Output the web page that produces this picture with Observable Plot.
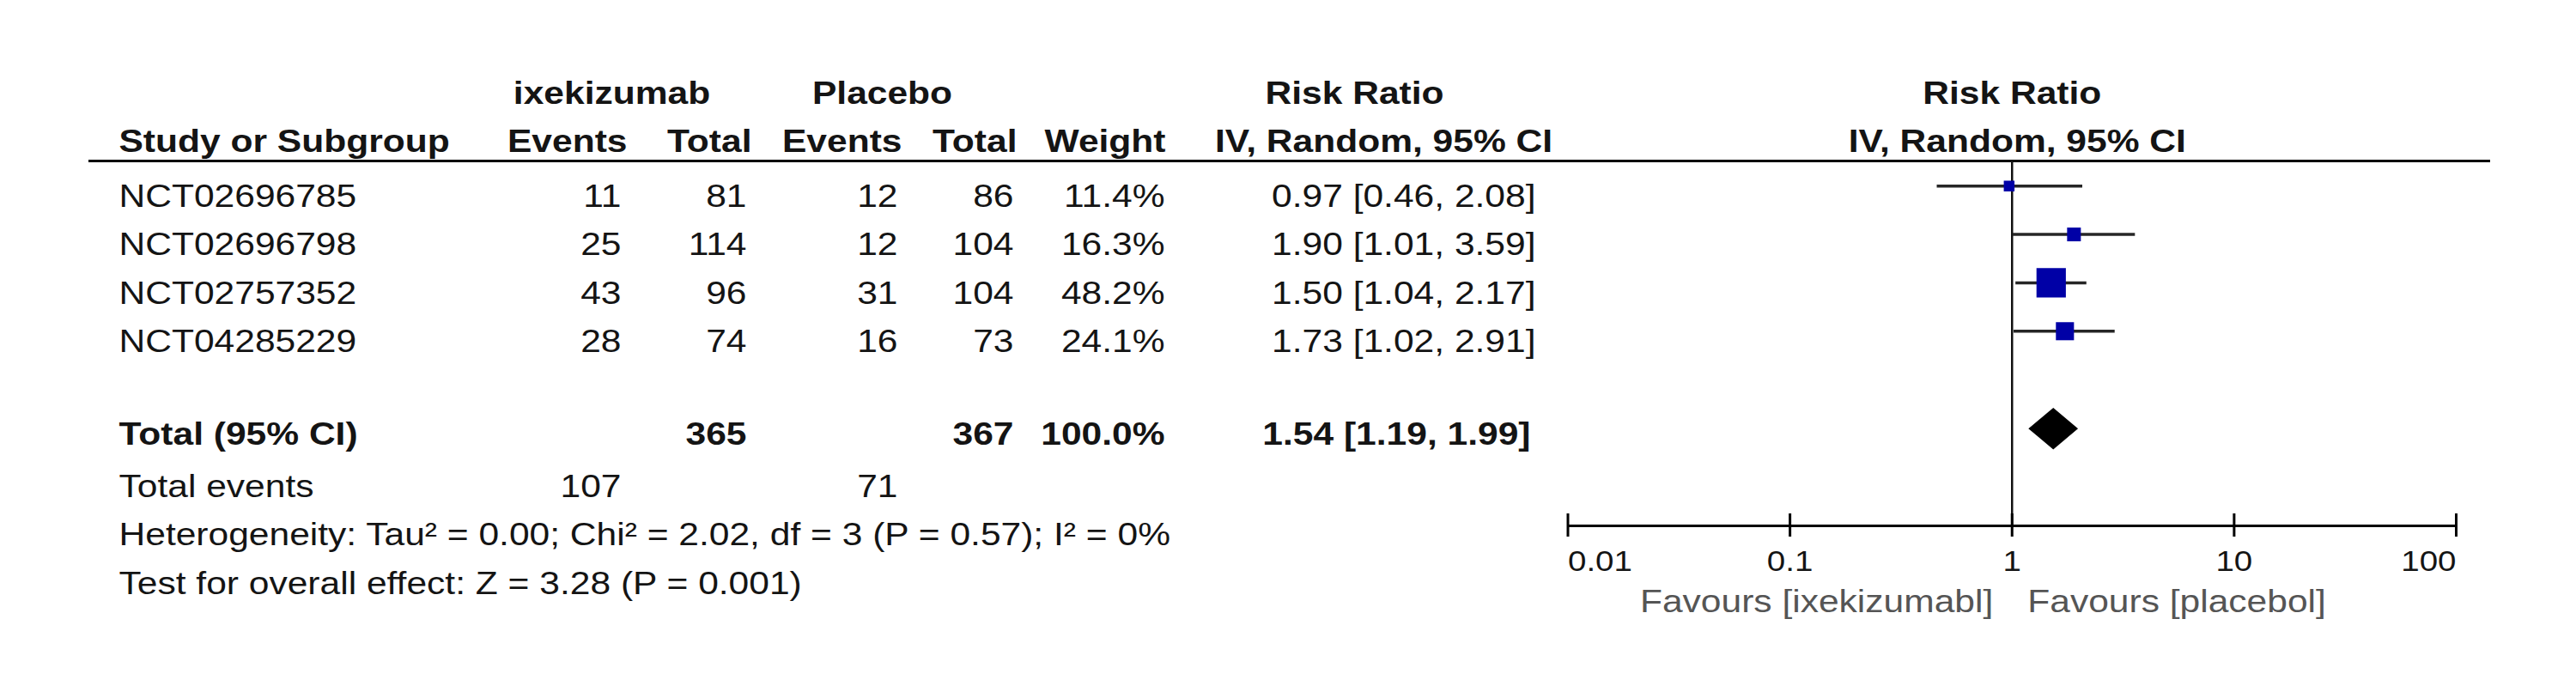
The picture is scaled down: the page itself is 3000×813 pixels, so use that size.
<!DOCTYPE html>
<html>
<head>
<meta charset="utf-8">
<script src="https://cdn.jsdelivr.net/npm/d3@7"></script>
<script src="https://cdn.jsdelivr.net/npm/@observablehq/plot@0.6"></script>
<style>
  html, body { margin: 0; padding: 0; background: #ffffff; overflow: hidden; }
  #chart svg { display: block; }
</style>
</head>
<body>
<div id="chart"></div>
<script>
// ---------------- DATA ----------------
const studies   = ["NCT02696785", "NCT02696798", "NCT02757352", "NCT04285229"];
const ixeEvents = [11, 25, 43, 28];
const ixeTotal  = [81, 114, 96, 74];
const pboEvents = [12, 12, 31, 16];
const pboTotal  = [86, 104, 104, 73];
const weights   = [11.4, 16.3, 48.2, 24.1];
const rr        = [0.97, 1.90, 1.50, 1.73];
const rrLower   = [0.46, 1.01, 1.04, 1.02];
const rrUpper   = [2.08, 3.59, 2.17, 2.91];

const pooledLabel  = "Total (95% CI)";
const pooledTotals = [365, 367];          // ixekizumab, placebo
const pooledWeight = 100.0;
const pooledRR     = [1.54, 1.19, 1.99];  // estimate, lower, upper
const eventsLabel  = "Total events";
const totalEvents  = [107, 71];           // ixekizumab, placebo
const heterogeneity = "Heterogeneity: Tau² = 0.00; Chi² = 2.02, df = 3 (P = 0.57); I² = 0%";
const overallEffect = "Test for overall effect: Z = 3.28 (P = 0.001)";

const headerTop = ["ixekizumab", "Placebo", "Risk Ratio", "Risk Ratio"];
const headerSub = ["Study or Subgroup", "Events", "Total", "Events", "Total", "Weight", "IV, Random, 95% CI", "IV, Random, 95% CI"];

const tickValues = [0.01, 0.1, 1, 10, 100];
const tickLabels = ["0.01", "0.1", "1", "10", "100"];
const favours    = ["Favours [ixekizumabl]", "Favours [placebol]"];

// ---------------- LAYOUT / STYLE ----------------
const L = {
  width: 3000, height: 813,
  font: "'Liberation Sans', Arial, Helvetica, sans-serif",
  fs: 37, tickFs: 33.5, stretch: 1.15,
  ink: "#141414", favInk: "#555555", boxFill: "#0000a6", ciInk: "#262626",
  rowY0: 240.4, rowStep: 56.36,
  xRange: [1825.5, 2860],
  headTopY: 120, headSubY: 176, headRuleY: 187,
  ruleLeft: 103, ruleRight: 100,
  axisY: 612, tickTop: 598, tickBottom: 625, tickLabelY: 664, favY: 712,
  labelX: 138,
  dataCols: [723, 869, 1045, 1180, 1356, 1788],
  headSubX: [138, 730, 875, 1050, 1184, 1357, 1611, null],
  headTopX: [712, 1027, 1577, null],
  forestDy: -24.2, diamondDy: -23, diamondHalf: 0.43, boxMaxR: 19.3,
  totalDy: -5,
  favDx: [-22, 18]
};

// ---------------- TABLE BUILD ----------------
const rowOrder = [...studies, "", pooledLabel, eventsLabel, "heterogeneity", "overall"];
const rowOf = key => rowOrder.indexOf(key);
const fmt2 = v => v.toFixed(2);

const studyRows = studies.map((s, k) => ({
  row: rowOf(s), label: s,
  cells: [ixeEvents[k], ixeTotal[k], pboEvents[k], pboTotal[k], weights[k].toFixed(1) + "%",
          `${fmt2(rr[k])} [${fmt2(rrLower[k])}, ${fmt2(rrUpper[k])}]`],
  rr: rr[k], lo: rrLower[k], hi: rrUpper[k], w: weights[k]
}));

const totalRow = {
  row: rowOf(pooledLabel), label: pooledLabel,
  cells: ["", pooledTotals[0], "", pooledTotals[1], pooledWeight.toFixed(1) + "%",
          `${fmt2(pooledRR[0])} [${fmt2(pooledRR[1])}, ${fmt2(pooledRR[2])}]`]
};
const eventsRow = {
  row: rowOf(eventsLabel), label: eventsLabel,
  cells: [totalEvents[0], "", totalEvents[1], "", "", ""]
};
const noteRows = [
  {row: rowOf("heterogeneity"), label: heterogeneity},
  {row: rowOf("overall"), label: overallEffect}
];

const diamond = [
  {y: totalRow.row - L.diamondHalf, x1: pooledRR[0], x2: pooledRR[0]},
  {y: totalRow.row,                 x1: pooledRR[1], x2: pooledRR[2]},
  {y: totalRow.row + L.diamondHalf, x1: pooledRR[0], x2: pooledRR[0]}
];

const T = (data, opts) => Plot.text(data, {
  lineAnchor: "bottom", fontSize: L.fs, fill: L.ink, fontFamily: L.font, ...opts
});

const marks = [];

// header line
marks.push(Plot.ruleY([0], {dy: L.headRuleY - L.rowY0, insetLeft: L.ruleLeft, insetRight: L.ruleRight,
  stroke: "#000", strokeWidth: 3}));
// line of no effect
marks.push(Plot.ruleX([1], {insetTop: L.headRuleY, insetBottom: L.height - L.axisY, stroke: "#111", strokeWidth: 2.5}));
// confidence intervals
marks.push(Plot.ruleY(studyRows, {y: "row", x1: "lo", x2: "hi", dy: L.forestDy, stroke: L.ciInk, strokeWidth: 3.5}));
// weight boxes
marks.push(Plot.dot(studyRows, {x: "rr", y: "row", r: "w", symbol: "square", fill: L.boxFill, stroke: "none", dy: L.forestDy}));
// pooled diamond
marks.push(Plot.areaX(diamond, {y: "y", x1: "x1", x2: "x2", fill: "#000", dy: L.diamondDy}));
// axis line & ticks
marks.push(Plot.ruleY([0], {x1: () => tickValues[0], x2: () => tickValues[tickValues.length - 1],
  dy: L.axisY - L.rowY0, stroke: "#000", strokeWidth: 3}));
marks.push(Plot.ruleX(tickValues, {insetTop: L.tickTop, insetBottom: L.height - L.tickBottom, stroke: "#000", strokeWidth: 3}));
// tick labels
const tickText = d => tickLabels[tickValues.indexOf(d)];
marks.push(T(tickValues.slice(0, 1), {x: d => d, text: tickText, frameAnchor: "top", dy: L.tickLabelY, textAnchor: "start", fontSize: L.tickFs}));
marks.push(T(tickValues.slice(1, -1), {x: d => d, text: tickText, frameAnchor: "top", dy: L.tickLabelY, textAnchor: "middle", fontSize: L.tickFs}));
marks.push(T(tickValues.slice(-1), {x: d => d, text: tickText, frameAnchor: "top", dy: L.tickLabelY, textAnchor: "end", fontSize: L.tickFs}));
// favours labels
marks.push(T([favours[0]], {x: () => 1, text: d => d, frameAnchor: "top", dy: L.favY, dx: L.favDx[0], textAnchor: "end", fill: L.favInk}));
marks.push(T([favours[1]], {x: () => 1, text: d => d, frameAnchor: "top", dy: L.favY, dx: L.favDx[1], textAnchor: "start", fill: L.favInk}));

// headers (top row)
headerTop.forEach((h, k) => {
  if (L.headTopX[k] == null) {
    marks.push(T([h], {x: () => 1, text: d => d, frameAnchor: "top", dy: L.headTopY, textAnchor: "middle", fontWeight: "bold"}));
  } else {
    marks.push(T([h], {text: d => d, frameAnchor: "top-left", dx: L.headTopX[k], dy: L.headTopY, textAnchor: "middle", fontWeight: "bold"}));
  }
});
// headers (second row)
headerSub.forEach((h, k) => {
  const anchor = k === 0 ? "start" : (k >= 6 ? "middle" : "end");
  if (L.headSubX[k] == null) {
    marks.push(T([h], {x: () => 1, text: d => d, frameAnchor: "top", dy: L.headSubY, dx: 6, textAnchor: "middle", fontWeight: "bold"}));
  } else {
    marks.push(T([h], {text: d => d, frameAnchor: "top-left", dx: L.headSubX[k], dy: L.headSubY, textAnchor: anchor, fontWeight: "bold"}));
  }
});

// row labels
marks.push(T(studyRows, {y: "row", text: "label", frameAnchor: "left", dx: L.labelX, textAnchor: "start"}));
marks.push(T([totalRow], {y: "row", text: "label", frameAnchor: "left", dx: L.labelX, dy: L.totalDy, textAnchor: "start", fontWeight: "bold"}));
marks.push(T([eventsRow], {y: "row", text: "label", frameAnchor: "left", dx: L.labelX, textAnchor: "start"}));
marks.push(T(noteRows, {y: "row", text: "label", frameAnchor: "left", dx: L.labelX, textAnchor: "start"}));

// numeric columns
L.dataCols.forEach((cx, c) => {
  marks.push(T(studyRows, {y: "row", text: d => String(d.cells[c]), frameAnchor: "left", dx: cx, textAnchor: "end"}));
  marks.push(T([totalRow], {y: "row", text: d => String(d.cells[c]), frameAnchor: "left", dx: c === 5 ? cx - 6 : cx, dy: L.totalDy, textAnchor: "end", fontWeight: "bold"}));
  marks.push(T([eventsRow], {y: "row", text: d => String(d.cells[c]), frameAnchor: "left", dx: cx, textAnchor: "end"}));
});

const chart = Plot.plot({
  width: L.width, height: L.height,
  marginLeft: 0, marginRight: 0, marginTop: 0, marginBottom: 0,
  style: {background: "#ffffff", fontFamily: L.font, color: L.ink},
  x: {type: "log", domain: [tickValues[0], tickValues[tickValues.length - 1]], range: L.xRange, axis: null},
  y: {type: "linear", domain: [0, rowOrder.length - 1], range: [L.rowY0, L.rowY0 + L.rowStep * (rowOrder.length - 1)], axis: null},
  r: {type: "pow", exponent: 0.7, range: [0, L.boxMaxR]},
  marks
});

// Horizontal stretch of glyphs (the reference text is set slightly wide)
const svg = chart.tagName.toLowerCase() === "svg" ? chart : chart.querySelector("svg");
svg.querySelectorAll("text").forEach(el => {
  const tr = el.getAttribute("transform");
  if (tr) {
    el.setAttribute("transform", `${tr} scale(${L.stretch},1)`);
  } else {
    const x = +(el.getAttribute("x") || 0);
    el.removeAttribute("x");
    el.setAttribute("transform", `translate(${x},0) scale(${L.stretch},1)`);
  }
});

document.getElementById("chart").appendChild(chart);
</script>
</body>
</html>
